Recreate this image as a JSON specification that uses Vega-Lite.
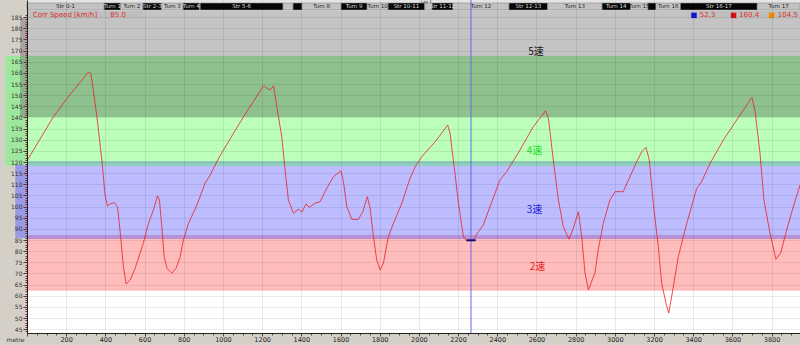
{
  "$schema": "https://vega.github.io/schema/vega-lite/v6.json",
  "width": 773,
  "height": 333,
  "autosize": {"type": "none"},
  "padding": {"left": 27, "top": 0, "right": 0, "bottom": 12},
  "background": "#d4d0c8",
  "config": {"view": {"fill": "white", "stroke": null}, "font": "DejaVu Sans"},
  "datasets": {
    "bands": [
      {"band": "g5", "lo": 167.6, "hi": 187.8},
      {"band": "dg", "lo": 140.2, "hi": 167.6},
      {"band": "lg", "lo": 120.5, "hi": 140.2},
      {"band": "tl", "lo": 118.2, "hi": 120.5},
      {"band": "bl", "lo": 87.3, "hi": 118.2},
      {"band": "pu", "lo": 85.5, "hi": 87.3},
      {"band": "rd", "lo": 62.3, "hi": 85.5}
    ],
    "gearbars": [
      {"gear": "4", "lo": 118.2, "hi": 167.6, "from": -111, "to": 0},
      {"gear": "3", "lo": 85.9, "hi": 118.7, "from": -60, "to": 0}
    ],
    "gear5bar": [
      {"gear": "5", "lo": 140.2, "hi": 184.5, "from": -35, "to": 0}
    ],
    "boxes": [
      {"kind": "bar", "start": 0, "end": 3945, "lo": 187.8, "hi": 192.7},
      {"kind": "box", "start": 0, "end": 592, "lo": 184.2, "hi": 187.8},
      {"kind": "box", "start": 3374, "end": 3945, "lo": 184.2, "hi": 187.8}
    ],
    "segments": [
      {"name": "Str 0-1", "start": 0, "end": 394, "tone": "light"},
      {"name": "Turn 1", "start": 394, "end": 478, "tone": "dark"},
      {"name": "Turn 2", "start": 478, "end": 592, "tone": "light"},
      {"name": "Str 2-3", "start": 592, "end": 687, "tone": "dark"},
      {"name": "Turn 3", "start": 687, "end": 797, "tone": "light"},
      {"name": "Turn 4", "start": 797, "end": 880, "tone": "dark"},
      {"name": "Str 5-6", "start": 884, "end": 1307, "tone": "dark"},
      {"name": "", "start": 1307, "end": 1358, "tone": "light"},
      {"name": "", "start": 1358, "end": 1404, "tone": "dark"},
      {"name": "Turn 8", "start": 1404, "end": 1603, "tone": "light"},
      {"name": "Turn 9", "start": 1603, "end": 1736, "tone": "dark"},
      {"name": "Turn 10", "start": 1736, "end": 1843, "tone": "light"},
      {"name": "Str 10-11", "start": 1843, "end": 2030, "tone": "dark"},
      {"name": "", "start": 2030, "end": 2067, "tone": "light"},
      {"name": "Str 11-12", "start": 2067, "end": 2174, "tone": "dark"},
      {"name": "Turn 12", "start": 2174, "end": 2460, "tone": "light"},
      {"name": "Str 12-13", "start": 2460, "end": 2657, "tone": "dark"},
      {"name": "Turn 13", "start": 2657, "end": 2935, "tone": "light"},
      {"name": "Turn 14", "start": 2935, "end": 3080, "tone": "dark"},
      {"name": "Turn 15", "start": 3080, "end": 3169, "tone": "light"},
      {"name": "", "start": 3169, "end": 3210, "tone": "dark"},
      {"name": "Turn 16", "start": 3210, "end": 3335, "tone": "light"},
      {"name": "Str 16-17", "start": 3335, "end": 3727, "tone": "dark"},
      {"name": "Turn 17", "start": 3727, "end": 3945, "tone": "light"}
    ],
    "speed": [
      {"m": 0, "s": 120.6}, {"m": 135, "s": 140.3}, {"m": 204, "s": 148.6}, {"m": 314, "s": 160.4},
      {"m": 326, "s": 159.8}, {"m": 357, "s": 140.3}, {"m": 382, "s": 120.9}, {"m": 399, "s": 104.5},
      {"m": 411, "s": 100.3}, {"m": 424, "s": 101.2}, {"m": 446, "s": 101.8}, {"m": 462, "s": 100.0},
      {"m": 476, "s": 88.2}, {"m": 492, "s": 73.1}, {"m": 506, "s": 65.3}, {"m": 527, "s": 67.1},
      {"m": 552, "s": 72.4}, {"m": 577, "s": 79.1}, {"m": 594, "s": 83.8}, {"m": 620, "s": 92.5},
      {"m": 645, "s": 98.5}, {"m": 666, "s": 104.8}, {"m": 676, "s": 103.0}, {"m": 688, "s": 91.0},
      {"m": 700, "s": 77.6}, {"m": 714, "s": 72.4}, {"m": 739, "s": 70.1}, {"m": 761, "s": 72.4},
      {"m": 782, "s": 77.6}, {"m": 798, "s": 85.0}, {"m": 824, "s": 92.5}, {"m": 867, "s": 100.7},
      {"m": 909, "s": 110.5}, {"m": 935, "s": 114.2}, {"m": 982, "s": 122.4}, {"m": 1105, "s": 140.3},
      {"m": 1207, "s": 154.2}, {"m": 1241, "s": 152.3}, {"m": 1258, "s": 154.2}, {"m": 1275, "s": 144.8},
      {"m": 1300, "s": 131.4}, {"m": 1317, "s": 116.4}, {"m": 1334, "s": 103.0}, {"m": 1360, "s": 97.0},
      {"m": 1385, "s": 98.8}, {"m": 1403, "s": 97.6}, {"m": 1424, "s": 101.2}, {"m": 1441, "s": 99.7},
      {"m": 1470, "s": 101.5}, {"m": 1496, "s": 102.2}, {"m": 1530, "s": 108.2}, {"m": 1564, "s": 113.4},
      {"m": 1602, "s": 116.1}, {"m": 1615, "s": 111.2}, {"m": 1632, "s": 100.0}, {"m": 1658, "s": 94.3},
      {"m": 1691, "s": 94.3}, {"m": 1714, "s": 97.7}, {"m": 1737, "s": 104.5}, {"m": 1751, "s": 99.3},
      {"m": 1768, "s": 86.5}, {"m": 1785, "s": 76.1}, {"m": 1802, "s": 71.6}, {"m": 1819, "s": 74.6},
      {"m": 1844, "s": 86.5}, {"m": 1870, "s": 92.5}, {"m": 1913, "s": 101.5}, {"m": 1952, "s": 112.0},
      {"m": 1981, "s": 117.9}, {"m": 2015, "s": 122.4}, {"m": 2083, "s": 129.1}, {"m": 2147, "s": 136.6},
      {"m": 2159, "s": 132.9}, {"m": 2180, "s": 117.9}, {"m": 2202, "s": 101.5}, {"m": 2227, "s": 86.5},
      {"m": 2244, "s": 84.7}, {"m": 2278, "s": 85.0}, {"m": 2304, "s": 88.8}, {"m": 2329, "s": 91.8},
      {"m": 2363, "s": 100.0}, {"m": 2414, "s": 112.0}, {"m": 2448, "s": 115.7}, {"m": 2516, "s": 125.4},
      {"m": 2584, "s": 135.9}, {"m": 2647, "s": 143.0}, {"m": 2661, "s": 139.6}, {"m": 2686, "s": 120.9},
      {"m": 2712, "s": 103.0}, {"m": 2737, "s": 91.0}, {"m": 2766, "s": 85.4}, {"m": 2788, "s": 90.3},
      {"m": 2814, "s": 97.7}, {"m": 2831, "s": 86.5}, {"m": 2848, "s": 70.1}, {"m": 2865, "s": 62.6},
      {"m": 2880, "s": 66.0}, {"m": 2899, "s": 70.5}, {"m": 2915, "s": 80.6}, {"m": 2941, "s": 92.5},
      {"m": 2975, "s": 103.0}, {"m": 3001, "s": 106.7}, {"m": 3043, "s": 106.7}, {"m": 3077, "s": 113.4},
      {"m": 3112, "s": 120.2}, {"m": 3137, "s": 124.6}, {"m": 3159, "s": 126.6}, {"m": 3176, "s": 120.9},
      {"m": 3196, "s": 101.5}, {"m": 3222, "s": 82.0}, {"m": 3239, "s": 65.6}, {"m": 3261, "s": 56.7},
      {"m": 3275, "s": 52.3}, {"m": 3290, "s": 59.6}, {"m": 3324, "s": 77.6}, {"m": 3367, "s": 92.5},
      {"m": 3418, "s": 108.2}, {"m": 3443, "s": 111.2}, {"m": 3486, "s": 119.4}, {"m": 3554, "s": 129.9},
      {"m": 3639, "s": 141.1}, {"m": 3700, "s": 149.0}, {"m": 3715, "s": 143.3}, {"m": 3741, "s": 123.9},
      {"m": 3761, "s": 103.0}, {"m": 3792, "s": 88.0}, {"m": 3822, "s": 76.4}, {"m": 3846, "s": 79.1},
      {"m": 3877, "s": 89.5}, {"m": 3911, "s": 100.0}, {"m": 3945, "s": 109.7}
    ],
    "gears": [
      {"text": "5速", "m": 2598, "s": 169.4, "gear": "5"},
      {"text": "4速", "m": 2590, "s": 125.0, "gear": "4"},
      {"text": "3速", "m": 2590, "s": 98.5, "gear": "3"},
      {"text": "2速", "m": 2605, "s": 72.9, "gear": "2"}
    ],
    "headtext": [
      {"text": "Corr Speed [km/h]", "m": 30, "s": 185.8},
      {"text": "85.0", "m": 425, "s": 185.8},
      {"text": "52.3", "m": 3434, "s": 185.8},
      {"text": "160.4", "m": 3634, "s": 185.8},
      {"text": "104.5", "m": 3832, "s": 185.8}
    ],
    "icons": [
      {"stat": "min", "m": 3404, "s": 185.8},
      {"stat": "max", "m": 3606, "s": 185.8},
      {"stat": "avg", "m": 3800, "s": 185.8}
    ],
    "lap": [{"text": "Lap 1", "m": 2010, "s": 192.7}],
    "cursor": [{"m": 2266, "m1": 2243, "m2": 2290, "s": 84.9}]
  },
  "layer": [
    {
      "data": {"name": "bands"},
      "mark": {"type": "rect"},
      "encoding": {
        "y": {
          "field": "lo", "type": "quantitative",
          "scale": {"domain": [43.3, 192.7], "nice": false, "zero": false},
          "axis": {
            "title": null, "tickCount": 150, "grid": true, "gridColor": "#000",
            "gridOpacity": {"condition": {"test": "datum.value % 5 == 0 && datum.value <= 185", "value": 0.08}, "value": 0},
            "labelExpr": "datum.value % 5 == 0 && datum.value >= 45 && datum.value <= 185 ? datum.label : ''",
            "labelOverlap": false, "labelFlush": false, "labelFontSize": 6, "labelColor": "#333", "labelPadding": 1,
            "tickSize": {"condition": {"test": "datum.value % 5 == 0", "value": 4}, "value": 2},
            "tickOpacity": {"condition": {"test": "datum.value <= 186", "value": 1}, "value": 0},
            "tickColor": "#7a2a2a", "domainColor": "#222", "zindex": 1
          }
        },
        "y2": {"field": "hi"},
        "color": {
          "field": "band", "type": "nominal", "legend": null,
          "scale": {"domain": ["g5", "dg", "lg", "tl", "bl", "pu", "rd"],
                    "range": ["#c4c4c4", "#8fc18f", "#bbffbb", "#8fcfc0", "#bcbcff", "#b592d6", "#ffbcbc"]}
        }
      }
    },
    {
      "data": {"name": "speed"},
      "mark": {"type": "line", "color": "#ee2020", "strokeWidth": 1, "opacity": 0.8},
      "encoding": {
        "x": {
          "field": "m", "type": "quantitative",
          "scale": {"domain": [0, 3945], "nice": false, "zero": false},
          "axis": {
            "title": "metre", "titleX": -3, "titleY": 6, "titleAlign": "right", "titleBaseline": "middle", "titleFontSize": 6,
            "titleFontWeight": "normal", "titleColor": "#333",
            "tickCount": 80, "format": "d", "grid": true, "gridColor": "#000",
            "gridOpacity": {"condition": {"test": "datum.value % 200 == 0", "value": 0.08}, "value": 0},
            "labelExpr": "datum.value % 200 == 0 && datum.value > 0 ? datum.label : ''",
            "labelOverlap": false, "labelFlush": false, "labelFontSize": 6.5, "labelColor": "#222", "labelPadding": 0,
            "tickSize": {"condition": {"test": "datum.value % 200 == 0", "value": 3}, "value": 2},
            "tickColor": "#444", "domainColor": "#222", "zindex": 1
          }
        },
        "y": {"field": "s", "type": "quantitative"}
      }
    },
    {
      "data": {"name": "gearbars"},
      "mark": {"type": "rect"},
      "encoding": {
        "x": {"field": "from", "type": "quantitative"},
        "x2": {"field": "to"},
        "y": {"field": "lo", "type": "quantitative"},
        "y2": {"field": "hi"},
        "color": {"field": "gear", "type": "nominal", "legend": null,
                  "scale": {"domain": ["4", "3"], "range": ["#9ee89e", "#9a9ae4"]}}
      }
    },
    {
      "data": {"name": "gear5bar"},
      "mark": {"type": "rect", "color": "#707070", "opacity": 0.45},
      "encoding": {
        "x": {"field": "from", "type": "quantitative"},
        "x2": {"field": "to"},
        "y": {"field": "lo", "type": "quantitative"},
        "y2": {"field": "hi"}
      }
    },
    {
      "data": {"name": "boxes"},
      "mark": {"type": "rect"},
      "encoding": {
        "x": {"field": "start", "type": "quantitative"},
        "x2": {"field": "end"},
        "y": {"field": "lo", "type": "quantitative"},
        "y2": {"field": "hi"},
        "color": {"field": "kind", "type": "nominal", "legend": null,
                  "scale": {"domain": ["bar", "box"], "range": ["#e4e4e4", "#bfbfbf"]}}
      }
    },
    {
      "data": {"name": "segments"},
      "mark": {"type": "rect", "stroke": "#8a8a8a", "strokeWidth": 0.6},
      "encoding": {
        "x": {"field": "start", "type": "quantitative"},
        "x2": {"field": "end"},
        "y": {"datum": 188.2, "type": "quantitative"},
        "y2": {"datum": 191.35},
        "color": {"field": "tone", "type": "nominal", "legend": null,
                  "scale": {"domain": ["light", "dark"], "range": ["#c2c2c2", "#050505"]}}
      }
    },
    {
      "data": {"name": "segments"},
      "transform": [{"calculate": "(datum.start + datum.end) / 2", "as": "mid"}],
      "mark": {"type": "text", "fontSize": 5.5, "baseline": "middle", "align": "center"},
      "encoding": {
        "x": {"field": "mid", "type": "quantitative"},
        "y": {"datum": 189.8, "type": "quantitative"},
        "text": {"field": "name"},
        "color": {"field": "tone", "type": "nominal", "legend": null,
                  "scale": {"domain": ["light", "dark"], "range": ["#222222", "#dddddd"]}}
      }
    },
    {
      "data": {"name": "headtext"},
      "mark": {"type": "text", "fontSize": 7, "align": "left", "baseline": "middle", "color": "#e02a2a"},
      "encoding": {
        "x": {"field": "m", "type": "quantitative"},
        "y": {"field": "s", "type": "quantitative"},
        "text": {"field": "text"}
      }
    },
    {
      "data": {"name": "icons"},
      "mark": {"type": "point", "shape": "square", "filled": true, "size": 30, "opacity": 1},
      "encoding": {
        "x": {"field": "m", "type": "quantitative"},
        "y": {"field": "s", "type": "quantitative"},
        "color": {"field": "stat", "type": "nominal", "legend": null,
                  "scale": {"domain": ["min", "max", "avg"], "range": ["#1414d0", "#d41414", "#f08a00"]}}
      }
    },
    {
      "data": {"name": "lap"},
      "mark": {"type": "text", "fontSize": 4, "align": "left", "baseline": "top", "color": "#333"},
      "encoding": {
        "x": {"field": "m", "type": "quantitative"},
        "y": {"field": "s", "type": "quantitative"},
        "text": {"field": "text"}
      }
    },
    {
      "data": {"name": "gears"},
      "mark": {"type": "text", "fontSize": 10, "align": "center", "baseline": "middle", "font": "Noto Sans CJK JP"},
      "encoding": {
        "x": {"field": "m", "type": "quantitative"},
        "y": {"field": "s", "type": "quantitative"},
        "text": {"field": "text"},
        "color": {"field": "gear", "type": "nominal", "legend": null,
                  "scale": {"domain": ["5", "4", "3", "2"], "range": ["#111111", "#22e022", "#2020e0", "#ee2020"]}}
      }
    },
    {
      "data": {"name": "cursor"},
      "mark": {"type": "rule", "color": "#6a6ae8", "strokeWidth": 1},
      "encoding": {
        "x": {"field": "m", "type": "quantitative"}
      }
    },
    {
      "data": {"name": "cursor"},
      "mark": {"type": "rule", "color": "#10107a", "strokeWidth": 2},
      "encoding": {
        "x": {"field": "m1", "type": "quantitative"},
        "x2": {"field": "m2"},
        "y": {"field": "s", "type": "quantitative"}
      }
    }
  ],
  "resolve": {"scale": {"color": "independent"}}
}
